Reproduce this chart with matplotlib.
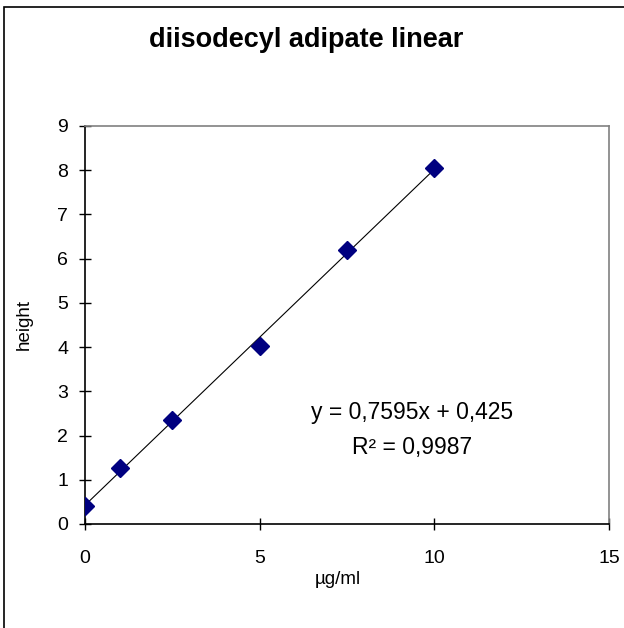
import numpy as np
import matplotlib
matplotlib.use("Agg")
import matplotlib.pyplot as plt
from matplotlib.patches import Rectangle

plt.rcParams['font.family'] = ['Liberation Sans', 'DejaVu Sans']

# data
conc = [0, 1, 2.5, 5, 7.5, 10]
height = [0.41, 1.26, 2.35, 4.02, 6.2, 8.05]

# trendline as reported on the chart
slope = 0.7595
intercept = 0.425
r2_text = "0,9987"

x_ticks = [0, 5, 10, 15]
y_ticks = list(range(0, 10))

fig = plt.figure(figsize=(6.24, 6.28), dpi=100)
ax = fig.add_axes([85 / 624, 1 - 524 / 628, (609 - 85) / 624, (524 - 126) / 628])

# trendline
xs = np.array([min(conc), max(conc)])
ax.plot(xs, slope * xs + intercept, color='black', lw=0.8, zorder=2)

# points
ax.plot(conc, height, linestyle='none', marker='D', markersize=9.5,
        color='#000080', zorder=3)

ax.set_xlim(0, 15)
ax.set_ylim(0, 9)
ax.set_xticks(x_ticks)
ax.set_yticks(y_ticks)
ax.tick_params(axis='both', direction='inout', length=8, width=1,
               color='black', labelsize=14)
ax.tick_params(axis='x', pad=15)
ax.tick_params(axis='y', pad=8)

for s in ['top', 'right']:
    ax.spines[s].set_color('#808080')
    ax.spines[s].set_linewidth(1.2)
for s in ['left', 'bottom']:
    ax.spines[s].set_color('black')
    ax.spines[s].set_linewidth(1.2)

ax.set_xlabel('\u00b5g/ml', fontsize=13.5)
ax.set_ylabel('height', fontsize=13.5)
ax.xaxis.set_label_coords((338 - 85) / 524, -(571 - 524) / 398)
ax.yaxis.set_label_coords(-(85 - 33) / 524, 0.5)

eq = f"y = {slope:.4f}x + {intercept:.3f}".replace('.', ',')
ax.text(9.36, 2.53, eq, fontsize=16.5, ha='center', va='center')
ax.text(9.36, 1.74, "R\u00b2 = " + r2_text, fontsize=16.5, ha='center', va='center')

fig.text(306 / 624, 1 - 40 / 628, 'diisodecyl adipate linear',
         fontsize=19.5, fontweight='bold', ha='center', va='center')

# chart area border (only top and left edges fall inside the image)
fig.patches.append(Rectangle((3.5 / 624, -0.5), 2, 1 - 6.5 / 628 + 0.5,
                             transform=fig.transFigure, fill=False,
                             edgecolor='black', lw=1.2))

fig.savefig('out.png', dpi=100)
